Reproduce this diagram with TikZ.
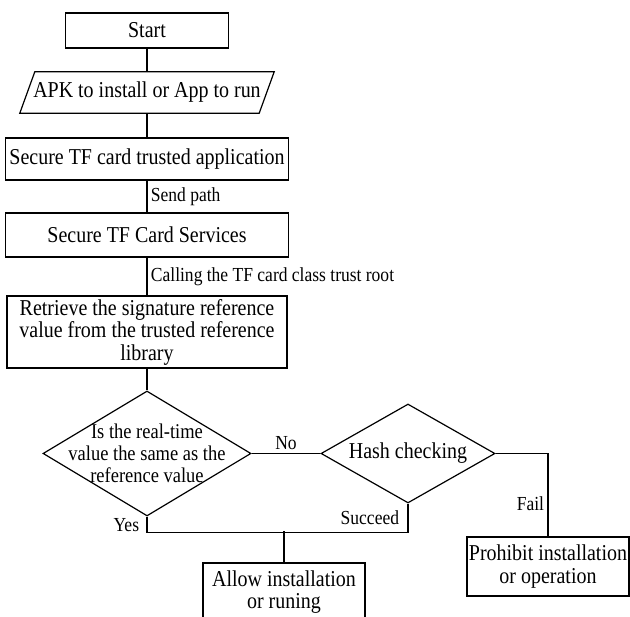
\documentclass[tikz,border=0pt]{standalone}
\usepackage{fontspec}
\setmainfont[FakeStretch=0.88]{Liberation Serif}
\usetikzlibrary{shapes}
\usetikzlibrary{positioning}
\tikzstyle{process}=[rectangle,draw,line width=1.2pt,align=center,inner sep=0pt,font=\fontsize{22.7}{22.5}\selectfont]
\tikzstyle{io}=[rectangle,inner sep=0pt,minimum width=239pt,minimum height=41pt,font=\fontsize{22.7}{22.5}\selectfont]
\tikzstyle{decision}=[diamond,draw,line width=1.2pt,aspect=1.7,inner sep=0pt,align=center]
\tikzstyle{flow} = [draw,line width=1.2pt]
\tikzstyle{branch} = [font=\fontsize{19.9}{20}\selectfont]

\begin{document}
\begin{tikzpicture}[x=1pt,y=-1pt]
\useasboundingbox (0,0) rectangle (630,617);

    % First we draw the boxes
    \foreach \pos/\name/\w/\h/\txt in {{(147,30.5)/start/163/35/Start}, {(147,159)/tfapp/283/42/Secure TF card trusted application}, {(147,235)/services/283/44/Secure TF Card Services}, {(147,332)/retrieve/280/72/{Retrieve the signature reference\\value from the trusted reference\\library}}, {(284,592)/allow/162/58/{Allow installation\\or runing}}, {(548,566.5)/prohibit/162/59/{Prohibit installation\\or operation}}}
        \node[process, minimum width=\w pt, minimum height=\h pt] (\name) at \pos {\txt};

    % the input box is slanted by hand
\node[io] (apk) at (147,92.5) {APK to install or App to run};
\path[flow] ([xshift=-7.5pt]apk.south west) -- ([xshift=7.5pt]apk.north west) -- ([xshift=7.5pt]apk.north east) -- ([xshift=-7.5pt]apk.south east) -- cycle;

    % Then the two checks
\node[decision, inner sep=-20pt, minimum width=208pt, minimum height=125pt, font=\fontsize{21}{22}\selectfont] (dec) at (147,453.5) {Is the real-time\\value the same as the\\reference value};
\node[decision, minimum width=174pt, minimum height=99pt, font=\fontsize{22.7}{22.5}\selectfont] (hash) at (408,453.5) {Hash checking};

    % Connect the boxes and write the steps
  \foreach \source/ \dest /\txt in {start/apk/{}, apk/tfapp/{}, tfapp/services/{Send path}, services/retrieve/{Calling the TF card class trust root}, retrieve/dec/{}}
          \path[flow] (\source) -- node[branch,right] {\txt} (\dest);

\path[flow] (dec) -- node[branch,above] {No} (hash);
\path[flow] (dec.south) -- node[branch,left,xshift=-4pt] {Yes} ++(0,16) -| node[branch,left,pos=0.75,xshift=-5pt] {Succeed} (hash.south);
\path[flow] (allow.north) -- ++(0,-31);
\path[flow] (hash.east) -| node[branch,left,pos=0.8] {Fail} (prohibit.north);

\end{tikzpicture}
\end{document}
